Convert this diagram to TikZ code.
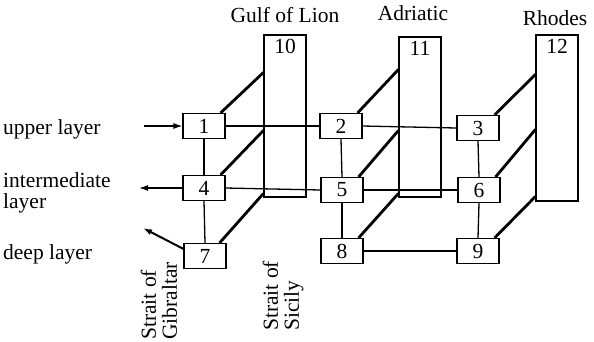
\documentclass[tikz,border=0pt]{standalone}
\usepackage{fontspec}
\setmainfont{Liberation Serif}
\usetikzlibrary{calc,arrows.meta}
\begin{document}
\begin{tikzpicture}[x=1pt,y=-1pt,
  every node/.style={font=\fontsize{21.5}{21}\selectfont, inner sep=0pt},
  cell/.style={draw, line width=1.1pt, minimum width=42pt, minimum height=25pt},
  basin/.style={draw, line width=1.1pt, minimum width=42pt},
  link/.style={line width=1.3pt},
  diag/.style={line width=2.8pt},
  flow/.style={line width=1.3pt, -{Latex[length=9pt,width=6pt]}},
  vlabel/.style={rotate=90, align=left, anchor=west}]
\useasboundingbox (0,0) rectangle (594,341);

% tall basin boxes
\node[basin, minimum height=162pt] (b10) at (285,116) {};
\node[basin, minimum height=160pt] (b11) at (420,117) {};
\node[basin, minimum height=166pt] (b12) at (557,118) {};
\node[anchor=north] (n10) at ($(b10.north)+(0,5)$) {10};
\node[anchor=north] (n11) at ($(b11.north)+(0,5)$) {11};
\node[anchor=north] (n12) at ($(b12.north)+(0,5)$) {12};

% basin names
\node[anchor=base] (gl) at (285,22) {Gulf of Lion};
\node[anchor=base] (ad) at (413,20) {Adriatic};
\node[anchor=base] (rh) at (555,25) {Rhodes};

% layer cells
\node[cell] (b1) at (204,126) {1};
\node[cell] (b4) at (204,188) {4};
\node[cell] (b7) at (205,256) {7};
\node[cell] (b2) at (341,126) {2};
\node[cell] (b5) at (342,190) {5};
\node[cell] (b8) at (342,251) {8};
\node[cell] (b3) at (478,128) {3};
\node[cell] (b6) at (479,190) {6};
\node[cell] (b9) at (478,251) {9};

% attachment points on the basin boxes
\coordinate (p10a) at ($(b10.north west)+(0,38)$);
\coordinate (p10b) at ($(b10.north west)+(0,96)$);
\coordinate (p10c) at ($(b10.north west)+(0,159)$);
\coordinate (p11a) at ($(b11.north west)+(0,33)$);
\coordinate (p11b) at ($(b11.north west)+(0,94)$);
\coordinate (p11c) at ($(b11.north west)+(0,157)$);
\coordinate (p12a) at ($(b12.north west)+(0,40)$);
\coordinate (p12b) at ($(b12.north west)+(0,95)$);
\coordinate (p12c) at ($(b12.north west)+(0,162)$);

% horizontal exchanges
\draw[link] (b1.east) -- (b2.west);
\draw[link] (b2.east) -- (b3.west);
\draw[link] (b4.east) -- (b5.west);
\draw[link] (b5.east) -- (b6.west);
\draw[link] (b8.east) -- (b9.west);

% vertical exchanges
\draw[link] (b1.south) -- (b4.north);
\draw[link] (b4.south) -- (b7.north);
\draw[link] (b2.south) -- (b5.north);
\draw[link] (b5.south) -- (b8.north);
\draw[link] (b3.south) -- (b6.north);
\draw[link] (b6.south) -- (b9.north);

% links to the basins
\draw[diag] ($(b1.north east)+(-5,0)$) -- (p10a);
\draw[diag] ($(b4.north east)+(-5,0)$) -- (p10b);
\draw[diag] ($(b7.north east)+(-7,0)$) -- (p10c);
\draw[diag] ($(b2.north east)+(-5,0)$) -- (p11a);
\draw[diag] ($(b5.north east)+(-5,0)$) -- (p11b);
\draw[diag] ($(b8.north east)+(-5,0)$) -- (p11c);
\draw[diag] ($(b3.north east)+(-5,0)$) -- (p12a);
\draw[diag] ($(b6.north east)+(-5,0)$) -- (p12b);
\draw[diag] ($(b9.north east)+(-5,0)$) -- (p12c);

% Gibraltar in/outflow
\coordinate (inU) at (144,126);
\coordinate (outI) at (139,188);
\coordinate (outD) at (143,228);
\draw[flow] (inU) -- (b1.west);
\draw[flow] (b4.west) -- (outI);
\draw[flow, line width=2pt] ($(b7.north west)+(0,6)$) -- (outD);

% layer names
\node[anchor=base west] (lu) at (3,134) {upper layer};
\node[anchor=west, align=left] (li) at (3,193) {intermediate\\layer};
\node[anchor=base west] (ld) at (3,259) {deep layer};

% straits
\node[vlabel] (sg) at (159,340) {Strait of\\Gibraltar};
\node[vlabel] (ss) at (283,331) {Strait of\\Sicily};
\end{tikzpicture}
\end{document}
